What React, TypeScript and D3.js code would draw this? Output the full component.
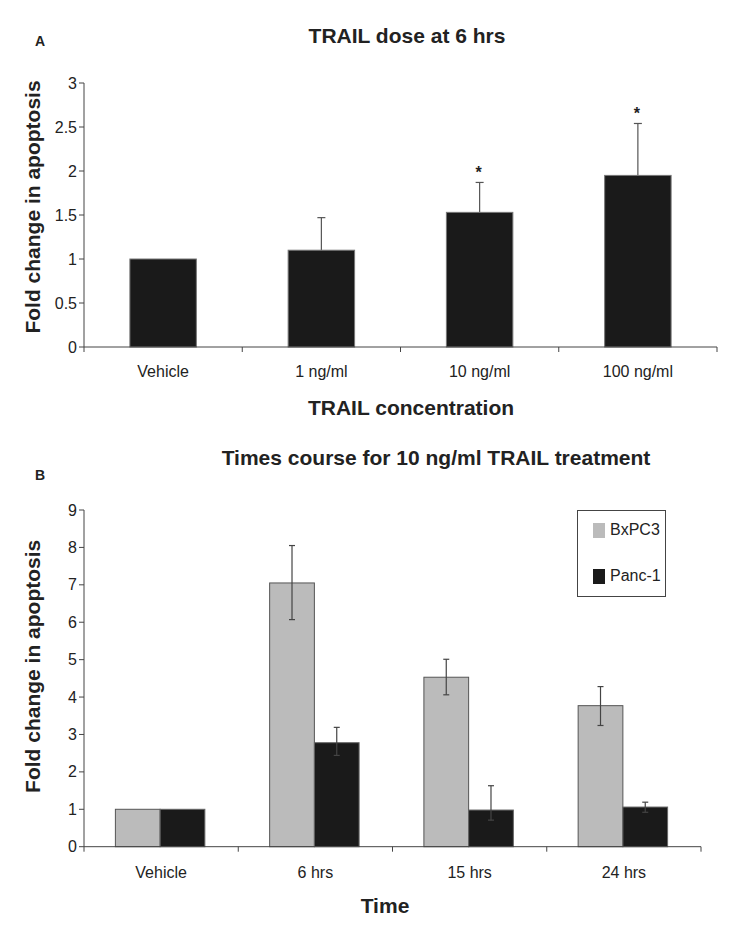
import React from "react";
import * as d3 from "d3";

const doseCategories = ["Vehicle", "1 ng/ml", "10 ng/ml", "100 ng/ml"];
const doseValues = [1.0, 1.1, 1.53, 1.95];
const doseErrors = [0, 0.37, 0.34, 0.59];
const doseSignificant = [false, false, true, true];
const doseTicks = [0, 0.5, 1, 1.5, 2, 2.5, 3];

const timeCategories = ["Vehicle", "6 hrs", "15 hrs", "24 hrs"];
const seriesNames = ["BxPC3", "Panc-1"];
const bxpc3Values = [1.0, 7.05, 4.53, 3.77];
const bxpc3ErrUp = [0, 1.0, 0.48, 0.51];
const bxpc3ErrDown = [0, 0.98, 0.47, 0.53];
const panc1Values = [1.0, 2.78, 0.98, 1.06];
const panc1ErrUp = [0, 0.41, 0.65, 0.13];
const panc1ErrDown = [0, 0.34, 0.27, 0.14];
const timeTicks = [0, 1, 2, 3, 4, 5, 6, 7, 8, 9];

const FONT = "'Liberation Sans', Arial, Helvetica, sans-serif";
const AXIS = "#444";
const TEXT = "#222";
const BLACK = "#1a1a1a";
const GRAY = "#bbbbbb";

function YAxis({ y, ticks, x0 }: { y: d3.ScaleLinear<number, number>; ticks: number[]; x0: number }) {
  const [r0, r1] = y.range();
  return (
    <g>
      <line x1={x0} x2={x0} y1={r0} y2={r1} stroke={AXIS} strokeWidth={1} />
      {ticks.map((t) => (
        <g key={t}>
          <line x1={x0 - 5} x2={x0} y1={y(t)} y2={y(t)} stroke={AXIS} strokeWidth={1} />
          <text x={x0 - 7} y={y(t)} dy="0.35em" textAnchor="end" fontSize={16} fill={TEXT} fontFamily={FONT}>
            {String(t)}
          </text>
        </g>
      ))}
    </g>
  );
}

function XAxis({ x, y0, labelY }: { x: d3.ScaleBand<string>; y0: number; labelY: number }) {
  const [a, b] = x.range();
  const bounds = x.domain().map((d) => x(d) as number).concat([b]);
  return (
    <g>
      <line x1={a} x2={b} y1={y0} y2={y0} stroke={AXIS} strokeWidth={1} />
      {bounds.map((bx, i) => (
        <line key={i} x1={bx} x2={bx} y1={y0} y2={y0 + 5} stroke={AXIS} strokeWidth={1} />
      ))}
      {x.domain().map((d) => (
        <text key={d} x={(x(d) as number) + x.bandwidth() / 2} y={labelY} textAnchor="middle" fontSize={16} fill={TEXT} fontFamily={FONT}>
          {d}
        </text>
      ))}
    </g>
  );
}

export default function App() {
  // Panel A
  const xA = d3.scaleBand<string>().domain(doseCategories).range([84, 717]).padding(0);
  const yA = d3.scaleLinear().domain([0, 3]).range([347, 83]);
  const barWA = xA.bandwidth() * 0.42;

  // Panel B
  const xB = d3.scaleBand<string>().domain(timeCategories).range([84, 701]).padding(0);
  const yB = d3.scaleLinear().domain([0, 9]).range([846.7, 510]);
  const groupW = xB.bandwidth() * 0.58;
  const xB1 = d3.scaleBand<string>().domain(seriesNames).range([0, groupW]).padding(0);
  const seriesData = [
    { name: "BxPC3", values: bxpc3Values, up: bxpc3ErrUp, down: bxpc3ErrDown, fill: GRAY, stroke: "#555" },
    { name: "Panc-1", values: panc1Values, up: panc1ErrUp, down: panc1ErrDown, fill: BLACK, stroke: "#666" },
  ];

  return (
    <svg width={747} height={933} style={{ position: "absolute", left: 0, top: 0, background: "#fff" }} fontFamily={FONT}>
      <rect width={747} height={933} fill="#fff" />
      {/* Panel A */}
      <text x={35} y={46} fontSize={14} fontWeight="bold" fill={TEXT}>A</text>
      <text x={407} y={43} textAnchor="middle" fontSize={21} fontWeight="bold" fill={TEXT}>TRAIL dose at 6 hrs</text>
      <text transform={`translate(40,${(yA(0) + yA(3)) / 2 - 8}) rotate(-90)`} textAnchor="middle" fontSize={21} fontWeight="bold" fill={TEXT}>
        Fold change in apoptosis
      </text>
      {doseCategories.map((c, i) => {
        const cx = (xA(c) as number) + xA.bandwidth() / 2;
        const top = yA(doseValues[i]);
        return (
          <g key={c}>
            {doseErrors[i] > 0 && (
              <g stroke="#555" strokeWidth={1.2}>
                <line x1={cx} x2={cx} y1={top} y2={yA(doseValues[i] + doseErrors[i])} />
                <line x1={cx - 4} x2={cx + 4} y1={yA(doseValues[i] + doseErrors[i])} y2={yA(doseValues[i] + doseErrors[i])} />
              </g>
            )}
            <rect x={cx - barWA / 2} y={top} width={barWA} height={yA(0) - top} fill={BLACK} stroke="#777" strokeWidth={1} />
            {doseSignificant[i] && (
              <text x={cx - 1} y={yA(doseValues[i] + doseErrors[i]) - 4} textAnchor="middle" fontSize={16} fontWeight="bold" fill={TEXT}>*</text>
            )}
          </g>
        );
      })}
      <YAxis y={yA} ticks={doseTicks} x0={84} />
      <XAxis x={xA} y0={347} labelY={377} />
      <text x={411} y={415} textAnchor="middle" fontSize={21} fontWeight="bold" fill={TEXT}>TRAIL concentration</text>

      {/* Panel B */}
      <text x={35} y={480} fontSize={14} fontWeight="bold" fill={TEXT}>B</text>
      <text x={436} y={465} textAnchor="middle" fontSize={21} fontWeight="bold" fill={TEXT}>Times course for 10 ng/ml TRAIL treatment</text>
      <text transform={`translate(40,${(yB(0) + yB(9)) / 2 - 12}) rotate(-90)`} textAnchor="middle" fontSize={21} fontWeight="bold" fill={TEXT}>
        Fold change in apoptosis
      </text>
      {timeCategories.map((c, i) => {
        const gx = (xB(c) as number) + (xB.bandwidth() - groupW) / 2 - 1;
        return (
          <g key={c}>
            {seriesData.map((s) => {
              const bx = gx + (xB1(s.name) as number);
              const top = yB(s.values[i]);
              const cx = bx + xB1.bandwidth() / 2;
              return (
                <g key={s.name}>
                  <rect x={bx} y={top} width={xB1.bandwidth()} height={yB(0) - top} fill={s.fill} stroke={s.stroke} strokeWidth={1} />
                  {s.up[i] > 0 && (
                    <g stroke="#444" strokeWidth={1.2}>
                      <line x1={cx} x2={cx} y1={yB(s.values[i] - s.down[i])} y2={yB(s.values[i] + s.up[i])} />
                      <line x1={cx - 3} x2={cx + 3} y1={yB(s.values[i] + s.up[i])} y2={yB(s.values[i] + s.up[i])} />
                      <line x1={cx - 3} x2={cx + 3} y1={yB(s.values[i] - s.down[i])} y2={yB(s.values[i] - s.down[i])} />
                    </g>
                  )}
                </g>
              );
            })}
          </g>
        );
      })}
      <YAxis y={yB} ticks={timeTicks} x0={84} />
      <XAxis x={xB} y0={846.7} labelY={878} />
      <text x={385} y={913} textAnchor="middle" fontSize={21} fontWeight="bold" fill={TEXT}>Time</text>

      {/* Legend */}
      <rect x={577.5} y={510.5} width={88} height={86} fill="#fff" stroke="#444" strokeWidth={1} />
      {seriesData.map((s, i) => (
        <g key={s.name}>
          <rect x={593} y={523 + i * 46} width={12} height={15} fill={s.fill} />
          <text x={610} y={535 + i * 46} fontSize={16} fill={TEXT}>{s.name}</text>
        </g>
      ))}
    </svg>
  );
}
